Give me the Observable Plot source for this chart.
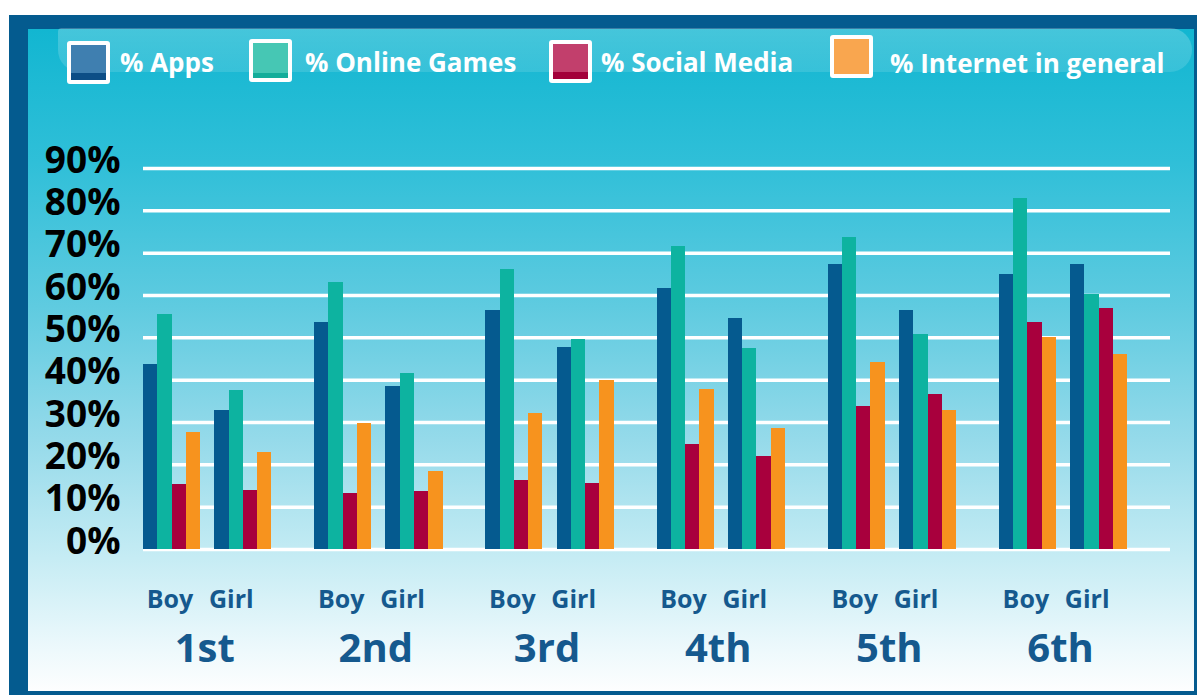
<!DOCTYPE html>
<html><head><meta charset="utf-8">
<script src="https://cdn.jsdelivr.net/npm/d3@7"></script>
<script src="https://cdn.jsdelivr.net/npm/@observablehq/plot@0.6"></script>
<style>
body{margin:0;background:#fff;font-family:"Open Sans",sans-serif;}
#page{position:relative;width:1197px;height:695px;overflow:hidden;background:#fff;}
#frame{position:absolute;left:9px;top:15px;width:1188px;height:680px;background:#045b8f;}
#panel{position:absolute;left:28px;top:29px;width:1166px;height:662px;
 background:linear-gradient(to bottom,#12b6d1 0%,#2fbfd8 20%,#5fcbe0 42%,#95daea 62%,#c6ecf4 80%,#eef9fc 94%,#fdfefe 100%);}
#gloss{position:absolute;left:58px;top:28px;width:1134px;height:44px;border-radius:4px 24px 24px 24px;
 background:linear-gradient(to bottom,rgba(255,255,255,0.22),rgba(255,255,255,0.12));}
#legend{position:absolute;left:0;top:0;width:1197px;height:100px;}
.sw{position:absolute;box-sizing:border-box;width:43px;height:43px;border:4px solid #fff;border-radius:3px;}
.lt{position:absolute;color:#fff;font-weight:700;font-size:26px;line-height:27px;white-space:nowrap;}
#chart{position:absolute;left:0;top:100px;}
</style></head>
<body><div id="page">
<div id="frame"></div><div id="panel"></div><div id="gloss"></div>
<div id="legend"></div>
<div id="chart"></div>
</div>
<script>
const grades = ["1st", "2nd", "3rd", "4th", "5th", "6th"];
const genders = ["Boy", "Girl"];
const series = ["% Apps", "% Online Games", "% Social Media", "% Internet in general"];
// values per grade: [Boy, Girl]
const apps     = [43.6, 32.8, 53.7, 38.5, 56.4, 47.8, 61.7, 54.6, 67.3, 56.4, 65.0, 67.4];
const games    = [55.4, 37.6, 63.1, 41.5, 66.2, 49.7, 71.6, 47.5, 73.8, 50.7, 82.9, 60.2];
const social   = [15.3, 13.9, 13.2, 13.7, 16.2, 15.7, 24.9, 22.0, 33.7, 36.5, 53.7, 57.0];
const internet = [27.6, 22.9, 29.7, 18.4, 32.2, 39.9, 37.7, 28.7, 44.1, 32.8, 50.0, 46.1];
const yTicks = [0, 10, 20, 30, 40, 50, 60, 70, 80, 90];

const colors = ["#055a8f", "#0db3a0", "#a8003d", "#f7931e"];
const swatchFill = [
  "linear-gradient(to bottom,#3f7fb0 80%,#0c4e86 80%)",
  "linear-gradient(to bottom,#46c7b4 85%,#14ad9a 85%)",
  "linear-gradient(to bottom,#c23f6c 80%,#a3003a 80%)",
  "linear-gradient(to bottom,#f9a64f 100%,#f9a64f 100%)"
];
const legendPos = [
  {sx: 67, sy: 41, tx: 120, ty: 49},
  {sx: 249, sy: 39, tx: 305, ty: 49},
  {sx: 549, sy: 40, tx: 601, ty: 49},
  {sx: 830, sy: 35, tx: 890, ty: 50}
];

const values = [apps, games, social, internet];
const slotsPerGrade = 12, slotsPerGender = 5;
const data = [];
grades.forEach((g, gi) => genders.forEach((s, si) => series.forEach((k, ki) => {
  const pos = gi * slotsPerGrade + si * slotsPerGender + ki;
  data.push({grade: g, gender: s, series: k, value: values[ki][gi * 2 + si], pos});
})));
const genderLabels = [];
grades.forEach((g, gi) => genders.forEach((s, si) => {
  genderLabels.push({label: s, pos: gi * slotsPerGrade + si * slotsPerGender + 2});
}));
const gradeLabels = grades.map((g, gi) => ({label: g, pos: gi * slotsPerGrade + 4.5}));

// legend
const leg = document.getElementById("legend");
series.forEach((s, i) => {
  const p = legendPos[i];
  const sw = document.createElement("div");
  sw.className = "sw"; sw.style.left = p.sx + "px"; sw.style.top = p.sy + "px";
  sw.style.background = swatchFill[i];
  leg.appendChild(sw);
  const t = document.createElement("div");
  t.className = "lt"; t.style.left = p.tx + "px"; t.style.top = p.ty + "px";
  t.textContent = s;
  leg.appendChild(t);
});

const labelStyle = {x: "pos", frameAnchor: "bottom", lineAnchor: "bottom", text: "label",
  fontWeight: 700, fill: "#15598e"};

const chart = Plot.plot({
  width: 1197,
  height: 595,
  marginTop: 68,
  marginBottom: 146,
  marginLeft: 143,
  marginRight: 27,
  style: {background: "transparent", fontFamily: "'Open Sans', sans-serif", overflow: "visible"},
  x: {type: "linear", domain: [0, 72], axis: null},
  y: {domain: [0, 90], axis: null},
  color: {domain: series, range: colors},
  marks: [
    Plot.ruleY(yTicks, {stroke: "white", strokeWidth: 3.5}),
    Plot.rectY(data, {x1: "pos", x2: d => d.pos + 1, y: "value", fill: "series", shapeRendering: "crispEdges"}),
    Plot.axisY(yTicks, {
      anchor: "left", tickSize: 0, tickPadding: 23, label: null,
      tickFormat: d => d + "%", fontSize: 37, fontWeight: 700, fill: "black",
      lineAnchor: "bottom", dy: 4
    }),
    Plot.text(genderLabels.filter(d => d.label === "Boy"), {...labelStyle, dy: 58, dx: -2, fontSize: 25}),
    Plot.text(genderLabels.filter(d => d.label === "Girl"), {...labelStyle, dy: 58, dx: -12, fontSize: 25}),
    Plot.text(gradeLabels, {...labelStyle, dy: 112, dx: -3, fontSize: 40})
  ]
});
document.getElementById("chart").appendChild(chart);
</script>
</body></html>
